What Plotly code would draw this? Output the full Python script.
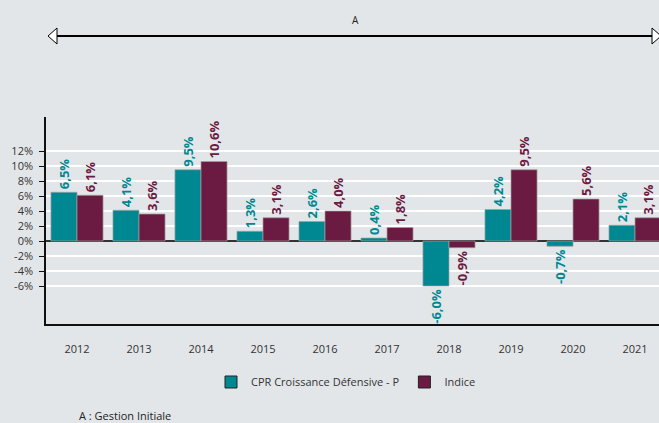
import plotly.graph_objects as go

years = ["2012", "2013", "2014", "2015", "2016", "2017", "2018", "2019", "2020", "2021"]
fund = [6.5, 4.1, 9.5, 1.3, 2.6, 0.4, -6.0, 4.2, -0.7, 2.1]
index = [6.1, 3.6, 10.6, 3.1, 4.0, 1.8, -0.9, 9.5, 5.6, 3.1]
fund_name = "CPR Croissance Défensive - P"
index_name = "Indice"
y_ticks = [-6, -4, -2, 0, 2, 4, 6, 8, 10, 12]
period_label = "A"
footnote = "A : Gestion Initiale"

TEAL = "#008892"
MAROON = "#6B1A42"
BG = "#E3E6E9"
FONT = "Open Sans"

W, H = 659, 423
L, R, T, B = 46, 0, 117, 99
pw, ph = W - L - R, H - T - B


def px_x(x):
    return (x - L) / pw


def px_y(y):
    return (H - B - y) / ph


def fmt(v):
    return f"{v:.1f}%".replace(".", ",")


fig = go.Figure()
for k, (name, vals, col) in enumerate([(fund_name, fund, TEAL), (index_name, index, MAROON)]):
    fig.add_trace(go.Bar(
        x=years, y=vals, name=name, showlegend=False, offsetgroup=str(k),
        marker=dict(color=col, line=dict(color="rgba(160,160,160,0.7)", width=1)),
        text=[fmt(v) for v in vals], textposition="outside", textangle=-90,
        constraintext="none",
        textfont=dict(color=col, size=13, family=FONT, weight="bold"),
        cliponaxis=False,
    ))
    fig.add_trace(go.Bar(
        x=[None], y=[None], name=name, offsetgroup=str(k),
        marker=dict(color=col, line=dict(color="#222", width=1)),
    ))

fig.update_layout(
    width=W, height=H,
    margin=dict(l=L, r=R, t=T, b=B, pad=0),
    paper_bgcolor=BG, plot_bgcolor=BG,
    barmode="group", bargap=0.16, bargroupgap=0,
    font=dict(family=FONT, size=11, color="#333"),
    legend=dict(orientation="h", x=px_x(346), y=px_y(382), xanchor="center", yanchor="middle",
                font=dict(size=11, color="#333"), itemwidth=30, bgcolor="rgba(0,0,0,0)"),
    xaxis=dict(range=[-0.5, -0.5 + pw / 62], showgrid=False, showline=True, linecolor="#111",
               linewidth=1.5, ticks="", ticklabelstandoff=14, tickfont=dict(size=11, color="#333"),
               zeroline=False, fixedrange=True),
    yaxis=dict(range=[-(H - B - 241) / 7.5, (241 - T) / 7.5], tickvals=y_ticks,
               ticktext=[f"{v}%" for v in y_ticks], showgrid=True, gridcolor="#FFFFFF", gridwidth=1.5,
               zeroline=True, zerolinecolor="#333", zerolinewidth=1.5,
               showline=True, linecolor="#111", linewidth=1.5, ticks="outside", ticklen=5,
               tickcolor="#111", ticklabelstandoff=4, tickfont=dict(size=11, color="#333")),
)

ya = 36
shapes = [
    dict(type="line", xref="paper", yref="paper", x0=px_x(56), x1=px_x(652), y0=px_y(ya), y1=px_y(ya),
         line=dict(color="#000", width=2)),
    dict(type="path", xref="paper", yref="paper",
         path=f"M {px_x(48)},{px_y(ya)} L {px_x(57)},{px_y(28)} L {px_x(57)},{px_y(44)} Z",
         fillcolor="#FFFFFF", line=dict(color="#000", width=1)),
    dict(type="path", xref="paper", yref="paper",
         path=f"M {px_x(661)},{px_y(ya)} L {px_x(652)},{px_y(28)} L {px_x(652)},{px_y(44)} Z",
         fillcolor="#FFFFFF", line=dict(color="#000", width=1)),
]
fig.update_layout(shapes=shapes)

fig.add_annotation(xref="paper", yref="paper", x=px_x(355), y=px_y(20), text=period_label,
                   showarrow=False, font=dict(size=10, color="#222"), xanchor="center", yanchor="middle")
fig.add_annotation(xref="paper", yref="paper", x=px_x(77), y=px_y(415), text=footnote,
                   showarrow=False, font=dict(size=11, color="#222"), xanchor="left", yanchor="middle")

fig.write_html("out.html", config={"displayModeBar": False},
               post_script="document.body.style.margin='0';document.body.style.overflow='hidden';")
